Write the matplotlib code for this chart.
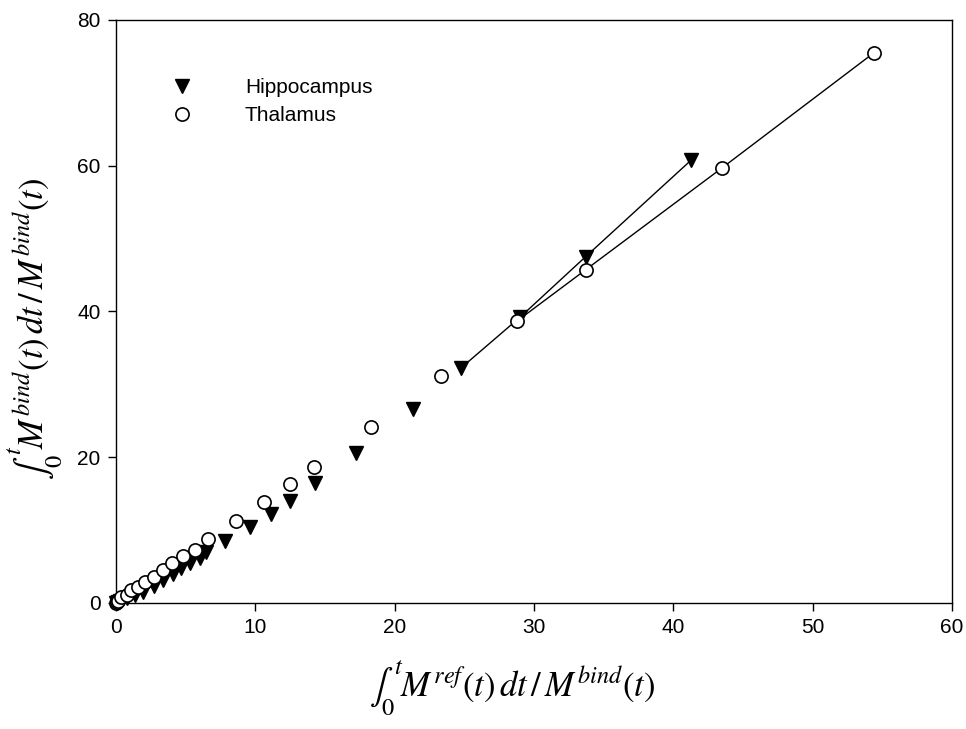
import matplotlib
matplotlib.use('Agg')
import matplotlib.pyplot as plt

plt.rcParams['font.family'] = ['Liberation Sans', 'DejaVu Sans']
plt.rcParams['mathtext.fontset'] = 'stix'

# Hippocampus (filled down triangles)
hip_x = [0, 0.05, 0.15, 0.3, 0.77, 1.36, 1.95, 2.7, 3.4, 4.1, 4.7, 5.3, 6.0, 6.5,
         7.8, 9.65, 11.1, 12.5, 14.3, 17.2, 21.3, 24.8, 29.0, 33.7, 41.3]
hip_y = [0, 0.05, 0.15, 0.3, 0.65, 1.1, 1.55, 2.25, 3.2, 3.9, 4.8, 5.5, 6.2, 7.0,
         8.45, 10.4, 12.2, 14.0, 16.4, 20.6, 26.6, 32.3, 39.2, 47.5, 60.8]

# Thalamus (open circles)
tha_x = [0, 0.05, 0.15, 0.4, 0.77, 1.1, 1.6, 2.1, 2.7, 3.4, 4.05, 4.8, 5.66, 6.6,
         8.6, 10.6, 12.5, 14.2, 18.3, 23.3, 28.8, 33.7, 43.5, 54.4]
tha_y = [0, 0.1, 0.25, 0.8, 1.1, 1.7, 2.2, 2.9, 3.6, 4.5, 5.5, 6.4, 7.3, 8.7,
         11.2, 13.8, 16.3, 18.6, 24.1, 31.2, 38.7, 45.7, 59.7, 75.5]

# points joined by the fitted line (last ones of each series)
hip_fit = 4
tha_fit = 4

fig = plt.figure(figsize=(9.66, 7.29), dpi=100)
ax = fig.add_axes([0.120, 0.173, 0.8655, 0.7996])

ax.plot(hip_x[-hip_fit:], hip_y[-hip_fit:], color='k', lw=1.0, zorder=2)
ax.plot(tha_x[-tha_fit:], tha_y[-tha_fit:], color='k', lw=1.0, zorder=2)

ax.plot(hip_x, hip_y, linestyle='none', marker='v', ms=9.5, color='k',
        label='Hippocampus', clip_on=False, zorder=3)
ax.plot(tha_x, tha_y, linestyle='none', marker='o', ms=9.5, mfc='white',
        mec='k', mew=1.2, label='Thalamus', clip_on=False, zorder=4)

ax.set_xlim(0, 60)
ax.set_ylim(0, 80)
ax.set_xticks([0, 10, 20, 30, 40, 50, 60])
ax.set_yticks([0, 20, 40, 60, 80])
ax.tick_params(direction='out', length=6, width=1, labelsize=15, pad=5)
for s in ax.spines.values():
    s.set_linewidth(1.0)

ax.set_xlabel(r'$\int_0^t M^{ref}(t)\,dt\,/\,M^{bind}(t)$', fontsize=25)
ax.xaxis.set_label_coords(0.474, -0.095)
ax.set_ylabel(r'$\int_0^t M^{bind}(t)\,dt\,/\,M^{bind}(t)$', fontsize=25)
ax.yaxis.set_label_coords(-0.062, 0.47)

ax.legend(loc='upper left', bbox_to_anchor=(0.057, 0.915), frameon=False,
          fontsize=15, handletextpad=2.5, labelspacing=0.45, handlelength=1.0,
          borderaxespad=0)

fig.savefig('out.png', dpi=100)
